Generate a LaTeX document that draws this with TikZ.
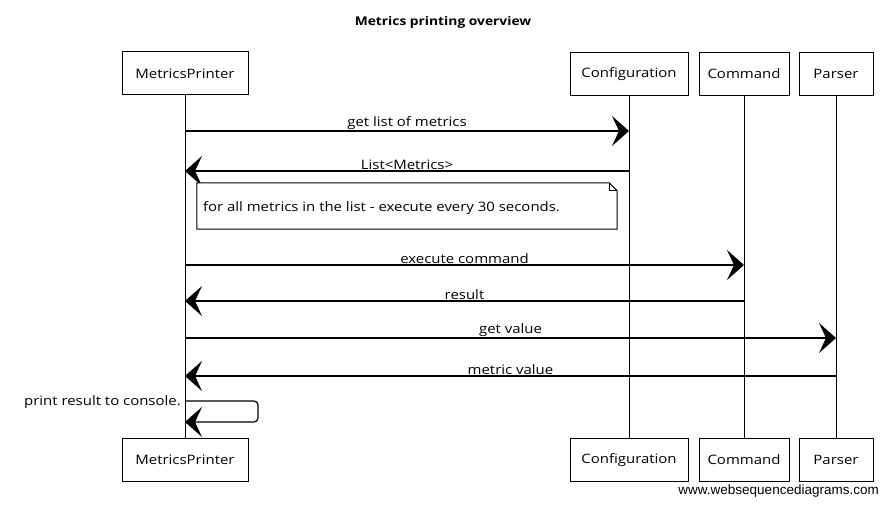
\documentclass[tikz,border=0pt]{standalone}
\usepackage{fontspec}
\setmainfont[FakeStretch=1.15]{Open Sans}
\newfontfamily\wsdfont{Liberation Sans}
\usetikzlibrary{arrows.meta}

\begin{document}
\begin{tikzpicture}[x=1pt, y=-1pt]
        \tikzstyle{every node}=[font=\fontsize{13}{15}\selectfont]
        \tikzstyle{actor}=[draw, rectangle, line width=1pt, minimum height=43pt, inner sep=2pt]
        \tikzstyle{life}=[line width=0.6pt]
        \tikzstyle{msg}=[line width=1.2pt, -{Stealth[length=17pt, width=30pt, inset=7pt]}]
        \tikzstyle{lbl}=[above, inner sep=1pt]
        \useasboundingbox (0,0) rectangle (888,505);
        \fill[white] (0,0) rectangle (888,505);
        \node[font=\fontsize{12}{14}\selectfont\bfseries] (title) at (443,22) {Metrics printing overview};
        % participants
        \node[actor, minimum width=126pt] (mp top) at (185,73.5) {MetricsPrinter};
        \node[actor, minimum width=118pt] (cf top) at (629,74) {Configuration};
        \node[actor, minimum width=90pt] (cm top) at (744,74) {Command};
        \node[actor, minimum width=74pt] (ps top) at (836,74) {Parser};
        \node[actor, minimum width=126pt] (mp bot) at (185,460) {MetricsPrinter};
        \node[actor, minimum width=118pt] (cf bot) at (629,460) {Configuration};
        \node[actor, minimum width=90pt] (cm bot) at (744,460) {Command};
        \node[actor, minimum width=74pt] (ps bot) at (836,460) {Parser};
        \draw[life] (mp top) -- (mp bot);
        \draw[life] (cf top) -- (cf bot);
        \draw[life] (cm top) -- (cm bot);
        \draw[life] (ps top) -- (ps bot);
        % messages
        \draw[msg] (mp top |- 0,131) -- (cf top |- 0,131) node[midway, lbl] {get list of metrics};
        \draw[msg] (cf top |- 0,171) -- (mp top |- 0,171) node[midway, lbl] {List<Metrics>};
        \node[minimum width=420pt, minimum height=46pt] (note) at (407,206) {};
        \draw[line width=1pt, fill=white] (note.north west) -- ([xshift=-8pt]note.north east) -- ([yshift=-8pt]note.north east) -- (note.south east) -- (note.south west) -- cycle;
        \draw[line width=0.7pt] ([xshift=-8pt]note.north east) -- ([xshift=-8pt, yshift=-8pt]note.north east) -- ([yshift=-8pt]note.north east);
        \node[anchor=west, inner sep=0pt] (note txt) at ([xshift=6pt, yshift=-2pt]note.west) {for all metrics in the list - execute every 30 seconds.};
        \draw[msg] (mp top |- 0,265) -- (cm top |- 0,265) node[midway, lbl] {execute command};
        \draw[msg] (cm top |- 0,301) -- (mp top |- 0,301) node[midway, lbl] {result};
        \draw[msg] (mp top |- 0,338) -- (ps top |- 0,338) node[midway, lbl] {get value};
        \draw[msg] (ps top |- 0,376) -- (mp top |- 0,376) node[midway, lbl] {metric value};
        \draw[msg, rounded corners=4pt] (mp top |- 0,401) -- (258,401) -- (258,422) -- (mp top |- 0,422);
        \node[anchor=east, inner sep=1pt] (self lbl) at (182,402) {print result to console.};
        \node[anchor=south east, font=\wsdfont\fontsize{13.5}{15}\selectfont, inner sep=1pt] (wsd) at (880,498) {www.websequencediagrams.com};
\end{tikzpicture}
\end{document}
